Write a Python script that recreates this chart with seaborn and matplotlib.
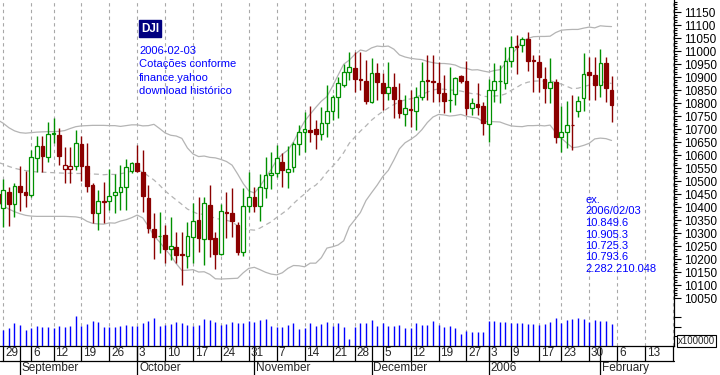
import numpy as np
import pandas as pd
import matplotlib
matplotlib.use("Agg")
import matplotlib.pyplot as plt
import seaborn as sns
from matplotlib.transforms import blended_transform_factory

sns.set_style("white")
plt.rcParams['font.family'] = ['Liberation Sans', 'DejaVu Sans']

# trading calendar (NYSE holidays in the range)
first_day = '2005-08-26'
axis_end = '2006-02-21'
holidays = ['2005-09-05', '2005-11-24', '2005-12-26', '2006-01-02', '2006-01-16', '2006-02-20']

# daily DJI quotes, 2005-08-26 .. 2006-02-03
opens = [10448.7, 10394.8, 10456.4, 10412.8, 10480.7, 10457.7, 10444.8, 10587.1, 10634.6, 10593.5,
         10679.4, 10676.9, 10546.1, 10544.8, 10558.9, 10642.3, 10557.6, 10484.6, 10375.6, 10423.0,
         10421.7, 10444.8, 10456.4, 10475.6, 10539.7, 10570.5, 10533.3, 10433.3, 10315.4, 10287.1,
         10292.3, 10238.4, 10247.4, 10219.2, 10212.8, 10285.9, 10349.9, 10275.6, 10407.6, 10282.0,
         10217.9, 10380.7, 10375.6, 10330.7, 10228.2, 10403.9, 10439.8, 10405.1, 10471.8, 10521.8,
         10529.5, 10571.8, 10535.9, 10552.6, 10641.1, 10687.2, 10696.2, 10698.7, 10679.5, 10721.8,
         10769.2, 10821.8, 10869.3, 10918.0, 10935.9, 10892.3, 10885.9, 10805.1, 10914.1, 10875.7,
         10837.2, 10860.3, 10811.6, 10756.4, 10778.2, 10769.2, 10824.4, 10887.2, 10884.6, 10878.2,
         10839.8, 10810.3, 10833.3, 10903.9, 10885.9, 10779.5, 10796.2, 10788.4, 10717.9, 10850.0,
         10883.3, 10878.2, 10962.8, 11017.9, 11023.0, 11044.8, 10964.1, 10958.9, 10891.0, 10856.4,
         10879.4, 10670.5, 10689.7, 10716.6, 10770.5, 10817.9, 10920.5, 10907.7, 10869.2, 10952.5,
         10849.6]
highs = [10462.0, 10507.6, 10475.6, 10491.0, 10557.6, 10538.4, 10619.2, 10673.0, 10673.0, 10728.2,
         10741.0, 10702.5, 10632.0, 10632.0, 10696.1, 10674.3, 10644.8, 10491.0, 10465.3, 10494.8,
         10544.8, 10526.9, 10561.5, 10583.3, 10574.3, 10638.4, 10619.2, 10484.6, 10375.6, 10382.0,
         10330.7, 10360.2, 10305.1, 10305.1, 10343.5, 10416.6, 10439.7, 10439.7, 10484.6, 10305.1,
         10411.5, 10456.4, 10471.7, 10343.5, 10471.7, 10535.9, 10478.4, 10525.7, 10593.6, 10612.8,
         10638.5, 10609.0, 10634.6, 10651.3, 10715.4, 10766.7, 10788.5, 10734.6, 10786.0, 10869.3,
         10830.8, 10901.3, 10948.7, 10997.5, 10997.5, 10997.5, 10965.4, 10971.8, 10952.6, 10916.7,
         10959.0, 10916.7, 10875.7, 10830.8, 10850.0, 10862.8, 10959.0, 10984.6, 10984.6, 10959.0,
         10907.7, 10937.2, 10901.3, 10907.7, 10962.8, 10818.0, 10875.7, 10805.1, 10891.0, 10952.5,
         10946.1, 11014.1, 11057.7, 11061.5, 11055.1, 11071.8, 10984.6, 10984.6, 10939.7, 10971.8,
         10891.0, 10788.4, 10807.6, 10830.7, 10826.9, 10993.5, 10978.2, 10975.6, 11006.4, 10975.6,
         10905.3]
lows = [10395.0, 10324.3, 10328.1, 10360.2, 10384.6, 10401.2, 10439.7, 10535.9, 10534.6, 10574.3,
        10644.8, 10561.5, 10491.0, 10491.0, 10542.3, 10500.0, 10456.4, 10337.1, 10311.5, 10337.1,
        10388.4, 10378.2, 10388.4, 10388.4, 10529.4, 10535.9, 10382.0, 10298.7, 10198.6, 10221.7,
        10183.3, 10196.1, 10183.3, 10099.9, 10164.1, 10183.3, 10228.2, 10176.9, 10208.9, 10160.2,
        10215.3, 10282.0, 10285.9, 10215.3, 10211.5, 10382.0, 10382.0, 10347.4, 10433.4, 10468.0,
        10516.7, 10478.4, 10471.8, 10535.9, 10600.0, 10612.8, 10651.3, 10621.8, 10657.7, 10670.5,
        10734.6, 10741.1, 10860.3, 10888.5, 10843.6, 10850.0, 10796.2, 10798.7, 10811.6, 10773.1,
        10811.6, 10741.1, 10741.1, 10711.6, 10709.0, 10696.2, 10811.6, 10811.6, 10805.1, 10805.1,
        10760.3, 10766.7, 10792.3, 10875.7, 10753.9, 10753.9, 10753.9, 10676.9, 10651.2, 10805.1,
        10801.2, 10852.5, 10939.7, 10910.2, 10997.4, 10924.3, 10843.5, 10843.5, 10798.7, 10798.7,
        10644.8, 10612.8, 10628.2, 10619.2, 10747.4, 10770.5, 10811.5, 10811.5, 10824.3, 10805.1,
        10725.3]
closes = [10414.0, 10465.3, 10412.8, 10479.4, 10459.0, 10447.4, 10591.0, 10634.6, 10597.4, 10680.7,
          10683.3, 10597.4, 10560.2, 10558.9, 10644.8, 10558.9, 10482.0, 10378.2, 10421.7, 10420.5,
          10441.0, 10456.4, 10475.6, 10552.5, 10567.9, 10539.7, 10443.5, 10320.5, 10285.9, 10289.7,
          10238.4, 10249.9, 10216.6, 10215.3, 10288.4, 10346.1, 10282.0, 10414.0, 10278.2, 10217.9,
          10384.6, 10378.2, 10344.8, 10228.2, 10403.8, 10437.2, 10403.9, 10475.7, 10523.1, 10530.8,
          10587.2, 10542.3, 10544.9, 10641.1, 10689.8, 10698.7, 10687.2, 10679.5, 10721.8, 10769.2,
          10821.8, 10875.7, 10918.0, 10937.2, 10892.3, 10888.5, 10809.0, 10914.1, 10879.5, 10837.2,
          10860.3, 10815.4, 10760.3, 10779.5, 10773.1, 10824.4, 10885.9, 10883.4, 10880.8, 10839.8,
          10809.0, 10812.8, 10894.9, 10885.9, 10779.5, 10798.7, 10786.0, 10724.3, 10850.0, 10884.6,
          10885.9, 10962.8, 11016.6, 11015.3, 11044.8, 10962.8, 10961.5, 10901.2, 10858.9, 10882.0,
          10670.5, 10689.7, 10715.3, 10714.1, 10809.0, 10911.5, 10906.4, 10869.2, 10955.1, 10856.4,
          10793.6]
# volume in millions of shares
volumes = [1500, 1660, 1835, 2355, 2180, 1660, 1835, 2075, 1940, 1940,
           1835, 2075, 1940, 2075, 3110, 2075, 2280, 2590, 2460, 1940,
           1940, 1940, 2075, 2180, 2075, 2075, 2355, 2590, 2870, 2075,
           2180, 2280, 2460, 2355, 2180, 2105, 2180, 2800, 2700, 2460,
           2180, 2280, 2460, 2355, 2355, 2590, 2460, 2700, 2800, 2075,
           1940, 1940, 2180, 2355, 1760, 1900, 2420, 2105, 2280, 2490,
           2105, 2355, 2000, 725, 2000, 2355, 2420, 2700, 2105, 2420,
           2105, 2105, 2180, 1900, 1900, 2420, 2210, 2210, 2590, 2210,
           2000, 2105, 1865, 1275, 1585, 1480, 1420, 1480, 2625, 2625,
           2490, 2490, 2355, 2420, 2420, 2280, 2280, 2210, 2315, 2520,
           2935, 2355, 2700, 2750, 2935, 2750, 2500, 2700, 2625, 2560,
           2282]
# Bollinger bands as drawn on the chart
upper_band = [10735, 10722, 10705, 10693, 10686, 10684, 10686, 10688, 10689, 10690,
              10690, 10691, 10694, 10702, 10709, 10712, 10713, 10714, 10714, 10714,
              10713, 10713, 10710, 10713, 10716, 10716, 10712, 10713, 10718, 10702,
              10685, 10676, 10673, 10664, 10627, 10604, 10594, 10596, 10591, 10589,
              10583, 10575, 10561, 10527, 10490, 10462, 10454, 10479, 10513, 10544,
              10581, 10603, 10619, 10650, 10692, 10730, 10757, 10783, 10807, 10825,
              10864, 10907, 10949, 10965, 10987, 11004, 10999, 11012, 11019, 11017,
              11019, 11007, 10985, 10977, 10972, 10969, 10967, 10960, 10955, 10952,
              10952, 10950, 10946, 10936, 10933, 10927, 10928, 10923, 10919, 10925,
              10928, 10952, 10984, 11010, 11038, 11048, 11055, 11056, 11056, 11057,
              11071, 11080, 11082, 11083, 11083, 11088, 11092, 11089, 11097, 11095,
              11094]
mid_band = [10572, 10565, 10556, 10549, 10544, 10540, 10537, 10535, 10534, 10533,
            10532, 10531, 10530, 10530, 10529, 10529, 10528, 10527, 10526, 10524,
            10526, 10525, 10528, 10532, 10538, 10542, 10535, 10519, 10504, 10484,
            10462, 10444, 10427, 10410, 10392, 10382, 10372, 10373, 10366, 10356,
            10353, 10349, 10343, 10327, 10318, 10313, 10311, 10319, 10331, 10343,
            10360, 10375, 10391, 10413, 10433, 10450, 10471, 10484, 10506, 10534,
            10556, 10580, 10609, 10645, 10669, 10692, 10712, 10734, 10752, 10767,
            10781, 10794, 10805, 10812, 10816, 10822, 10832, 10842, 10850, 10854,
            10853, 10850, 10849, 10846, 10841, 10836, 10835, 10826, 10824, 10827,
            10828, 10835, 10848, 10860, 10873, 10880, 10884, 10885, 10884, 10886,
            10879, 10873, 10864, 10855, 10857, 10863, 10869, 10876, 10881, 10880,
            10875]
lower_band = [10418, 10405, 10392, 10382, 10374, 10368, 10365, 10364, 10364, 10364,
              10364, 10364, 10364, 10363, 10362, 10358, 10345, 10337, 10335, 10334,
              10339, 10338, 10346, 10351, 10359, 10369, 10358, 10326, 10289, 10266,
              10239, 10213, 10182, 10156, 10157, 10159, 10150, 10151, 10141, 10124,
              10123, 10124, 10125, 10126, 10147, 10164, 10168, 10159, 10149, 10142,
              10139, 10147, 10164, 10175, 10174, 10170, 10184, 10184, 10205, 10242,
              10247, 10254, 10270, 10324, 10351, 10379, 10425, 10455, 10484, 10517,
              10541, 10581, 10624, 10647, 10660, 10675, 10697, 10725, 10746, 10756,
              10754, 10750, 10752, 10756, 10749, 10745, 10742, 10728, 10729, 10728,
              10727, 10719, 10712, 10710, 10709, 10713, 10713, 10714, 10712, 10715,
              10687, 10665, 10646, 10628, 10631, 10637, 10645, 10662, 10665, 10663,
              10656]

month_names = ['September', 'October', 'November', 'December', '2006', 'February']
note_left = ['2006-02-03', 'Cotações conforme', 'finance.yahoo', 'download histórico']
note_right = ['ex.', '2006/02/03', '10.849.6', '10.905.3', '10.725.3', '10.793.6', '2.282.210.048']

GREEN = '#009000'
RED = '#8b0000'
BLUE = '#0000ff'
BAND = '#b4b4b4'

days = pd.bdate_range(first_day, axis_end)
days = days[~days.isin(pd.to_datetime(holidays))]
pos = np.arange(len(days))
n = len(closes)
x = pos[:n]

o = np.array(opens)
c = np.array(closes)
prev = np.r_[o[0], c[:-1]]
edge = np.where(c >= prev, GREEN, RED)
face = np.where(c < o, edge, 'white')

# week starts (first trading day of each week) and month starts
s = pd.Series(pos, index=days)
week_pos = s.groupby(days.to_period('W')).first().values[1:]
month_pos = s.groupby(days.to_period('M')).first().values[1:]

fig = plt.figure(figsize=(7.2, 3.75), dpi=100)
ax = fig.add_axes([0, 29 / 375, 674 / 720, 346 / 375])
axv = ax.twinx()
ax.set_xlim(0.41, 121.2)
ax.set_ylim(9865.4, 11196.2)

for p in week_pos:
    ax.axvline(p, color='#a8a8a8', lw=0.8, ls=(0, (3, 3)), zorder=0.5)

sns.lineplot(x=x, y=upper_band, ax=ax, color=BAND, lw=0.9, zorder=1)
sns.lineplot(x=x, y=lower_band, ax=ax, color=BAND, lw=0.9, zorder=1)
sns.lineplot(x=x, y=mid_band, ax=ax, color=BAND, lw=0.9, linestyle=(0, (4, 3)), zorder=1)

ax.vlines(x, lows, highs, colors=edge, lw=1.0, zorder=2)
height = np.maximum(np.abs(c - o), 0.5)
ax.bar(x, height, bottom=np.minimum(o, c), width=0.66, color=face,
       edgecolor=edge, linewidth=0.9, zorder=3)

# price axis on the right
ax.yaxis.tick_right()
ax.set_yticks(np.arange(10050, 11151, 50))
ax.set_yticks(np.arange(10050, 11191, 10), minor=True)
ax.tick_params(axis='y', which='major', right=True, left=False, labelright=True, labelleft=False,
               length=5, width=0.8, color='black', labelsize=8.5, pad=2, labelcolor='black')
ax.tick_params(axis='y', which='minor', right=True, left=False, length=2.5, width=0.8, color='black')
ax.set_xticks([])
for side in ['left', 'top']:
    ax.spines[side].set_visible(False)
for side in ['right', 'bottom']:
    ax.spines[side].set_color('black')
    ax.spines[side].set_linewidth(0.9)

# volume panel
axv.set_ylim(0, 35893)
axv.vlines(x, 0, volumes, colors=BLUE, lw=1.0)
axv.set_yticks([1000, 2000, 3000])
axv.set_yticklabels([])
axv.tick_params(axis='y', length=5, width=0.8, color='black')
for side in ['left', 'top', 'bottom', 'right']:
    axv.spines[side].set_visible(False)

# date rows below the plot
tr = blended_transform_factory(ax.transData, ax.transAxes)
row1 = -15 / 346
row2 = -29 / 346
ax.plot([0.41, 121.2], [row1, row1], transform=tr, color='black', lw=0.9, clip_on=False)
for p in week_pos:
    ax.plot([p, p], [0, row1], transform=tr, color='black', lw=0.9, clip_on=False)
    if p < 118:
        ax.annotate(str(days[p].day), xy=(p, row1 / 2), xycoords=tr, xytext=(1.3, 0),
                    textcoords='offset points', ha='left', va='center', fontsize=8.5)
for p, name in zip(month_pos, month_names):
    ax.plot([p, p], [0, row2], transform=tr, color='black', lw=0.9, clip_on=False)
    ax.annotate(name, xy=(p, (row1 + row2) / 2), xycoords=tr, xytext=(1.3, 0),
                textcoords='offset points', ha='left', va='center', fontsize=8.5)

# labels and notes
fig.text(141 / 720, 1 - 28.5 / 375, 'DJI', color='white', fontsize=8.5, weight='bold',
         va='center', ha='left',
         bbox=dict(boxstyle='square,pad=0.18', fc='#000080', ec='#000080'))
for k, t in enumerate(note_left):
    fig.text(139 / 720, 1 - (51 + 13.4 * k) / 375, t, color=BLUE, fontsize=8,
             va='center', ha='left')
for k, t in enumerate(note_right):
    fig.text(585 / 720, 1 - (200 + 11.5 * k) / 375, t, color=BLUE, fontsize=8,
             va='center', ha='left')
fig.text(678 / 720, 1 - 341 / 375, 'x100000', fontsize=7, va='center', ha='left',
         bbox=dict(boxstyle='square,pad=0.1', fc='white', ec='black', lw=0.8))

fig.savefig('out.png', dpi=100)
